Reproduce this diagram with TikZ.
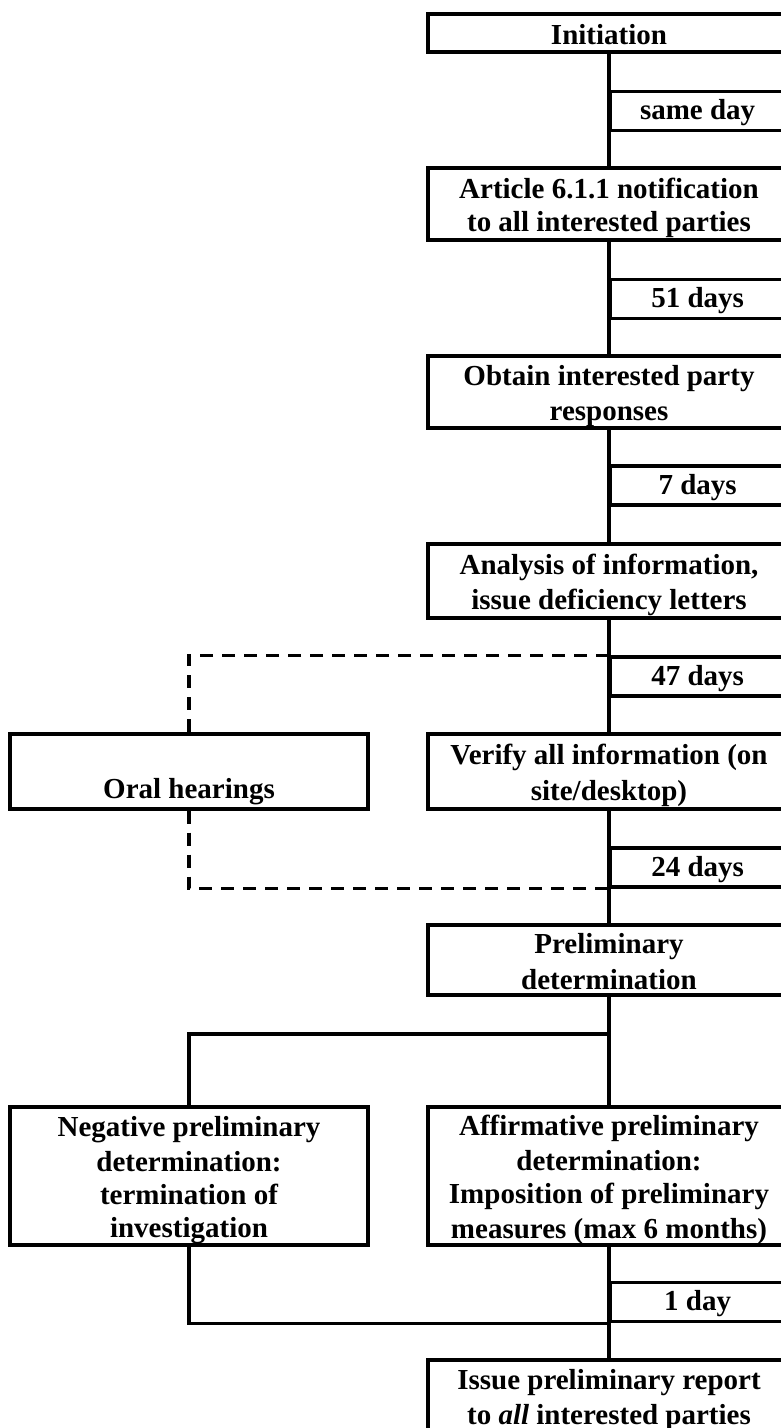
\documentclass[tikz,border=0pt]{standalone}
\usepackage{fontspec}
\setmainfont{Liberation Serif}
\def\ms{\vrule height 28pt depth 5pt width 0pt}
\def\ls{\vrule height 25pt depth 8pt width 0pt}
\tikzset{
  box/.style={draw, line width=3.2pt, inner sep=0pt, align=center,
    font=\bfseries\fontsize{29}{33}\selectfont},
  rbox/.style={box, minimum width=362pt},
  lbox/.style={box, minimum width=358pt},
  lab/.style={draw, line width=3.2pt, inner sep=0pt, anchor=west,
    minimum width=174pt, minimum height=39pt,
    font=\bfseries\fontsize{29}{33}\selectfont},
  conn/.style={line width=3.2pt},
  dsh/.style={line width=3.2pt, dash pattern=on 13pt off 9pt}
}
\begin{document}
\begin{tikzpicture}[x=1pt,y=-1pt]
\useasboundingbox (0,0) rectangle (781,1428);
% main column boxes
\node[rbox, minimum height=38pt] (init) at (609,33) {\ms Initiation};
\node[rbox, minimum height=72pt] (art) at (609,204) {\ms Article 6.1.1 notification\\\ms to all interested parties};
\node[rbox, minimum height=72pt] (obt) at (609,392) {\ms Obtain interested party\\\ms responses};
\node[rbox, minimum height=74pt] (ana) at (609,581) {\ms Analysis of information,\\\ms issue deficiency letters};
\node[rbox, minimum height=75pt] (ver) at (609,771.5) {\ms Verify all information (on\\\ms site/desktop)};
\node[lbox, minimum height=75pt] (oral) at (189,771.5) {\ms\\\ms Oral hearings};
\node[rbox, minimum height=70pt] (pre) at (609,960) {\ms Preliminary\\\ms determination};
\node[lbox, minimum height=138pt] (neg) at (189,1176) {\ms Negative preliminary\\\ms determination:\\\ms termination of\\\ms investigation};
\node[rbox, minimum height=138pt] (aff) at (609,1176) {\ms Affirmative preliminary\\\ms determination:\\\ms Imposition of preliminary\\\ms measures (max 6 months)};
\node[rbox, minimum height=72pt] (iss) at (609,1396) {\ms Issue preliminary report\\\ms to \textit{all} interested parties};
% duration labels
\node[lab] (d1) at (609,111) {\ls same day};
\node[lab] (d2) at (609,299) {\ls 51 days};
\node[lab] (d3) at (609,485.5) {\ls 7 days};
\node[lab] (d4) at (609,676.5) {\ls 47 days};
\node[lab] (d5) at (609,867.5) {\ls 24 days};
\node[lab] (d6) at (609,1302) {\ls 1 day};
% connectors
\draw[conn] (init.south) -- (art.north);
\draw[conn] (art.south) -- (obt.north);
\draw[conn] (obt.south) -- (ana.north);
\draw[conn] (ana.south) -- (ver.north);
\draw[conn] (ver.south) -- (pre.north);
\draw[conn] (pre.south) -- (aff.north);
\draw[conn] (aff.south) -- (iss.north);
\coordinate (br) at (609,1034);
\draw[conn] (br) -| (neg.north);
\draw[conn] (neg.south) |- (d6.south west);
\draw[dsh] (d4.north west) -| (oral.north);
\draw[dsh] (oral.south) |- (d5.south west);
\end{tikzpicture}
\end{document}
